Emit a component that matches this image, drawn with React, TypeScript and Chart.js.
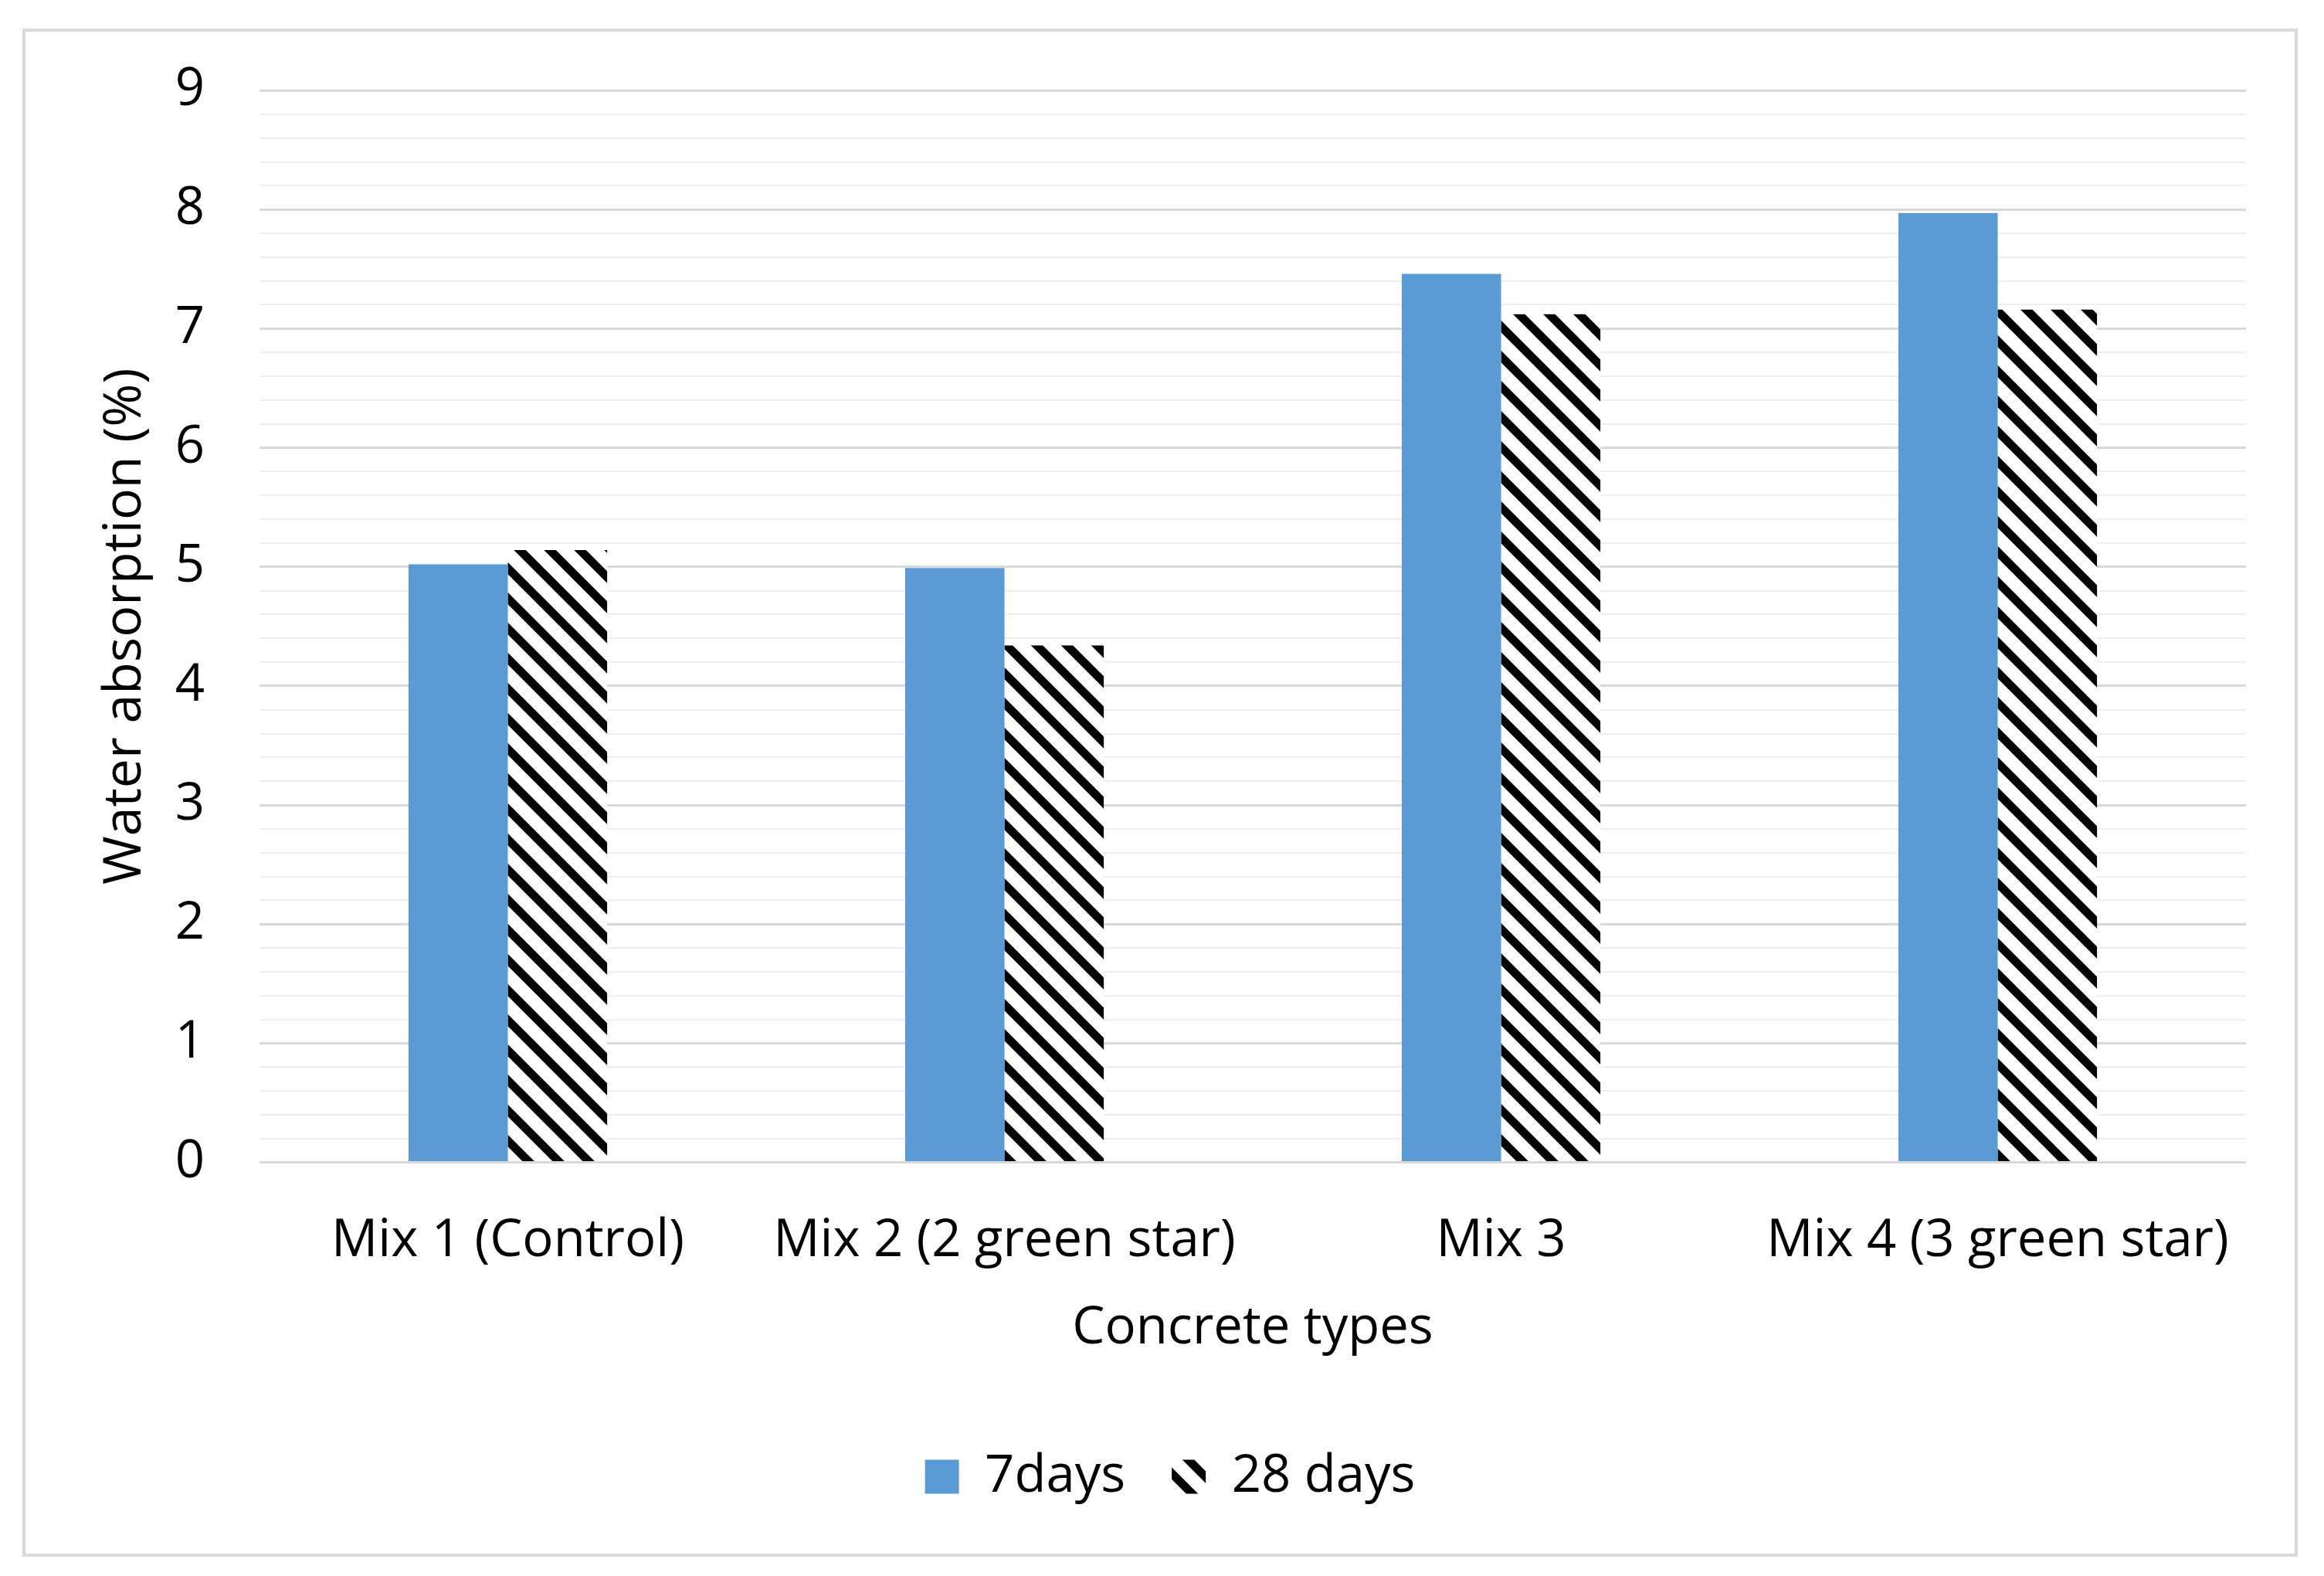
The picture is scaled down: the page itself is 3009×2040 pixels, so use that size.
import { Chart, registerables } from "chart.js"
import { useEffect, useRef } from "react"

Chart.register(...registerables)

// Data
const categories = ["Mix 1 (Control)", "Mix 2 (2 green star)", "Mix 3", "Mix 4 (3 green star)"]
const days7 = [5.02, 4.99, 7.46, 7.97]
const days28 = [5.14, 4.34, 7.12, 7.16]
const seriesNames = ["7days", "28 days"]
const yMin = 0
const yMax = 9
const yMinorStep = 0.2
const yTickValues = Array.from({ length: Math.round((yMax - yMin) / yMinorStep) + 1 }, (_, i) => yMin + i / 5)

const TEXT = "#000000"
const BLUE = "#5b9bd5"
const FONT = "'Open Sans', 'Noto Sans', sans-serif"

const isMajor = (v: number) => Math.abs(v - Math.round(v)) < 1e-6

// Black "\" stripes on white, like the Excel wide downward diagonal fill
function makeHatch(): CanvasPattern | string {
  const size = 39
  const c = document.createElement("canvas")
  c.width = size
  c.height = size
  const g = c.getContext("2d")
  if (!g) return "#000"
  g.fillStyle = "#ffffff"
  g.fillRect(0, 0, size, size)
  g.strokeStyle = "#000000"
  g.lineWidth = 11
  g.lineCap = "square"
  for (const off of [-size, 0, size]) {
    g.beginPath()
    g.moveTo(off, 0)
    g.lineTo(off + size, size)
    g.stroke()
  }
  return g.createPattern(c, "repeat") || "#000"
}

export default function App() {
  const chartRef = useRef<HTMLCanvasElement>(null)
  const chartInstance = useRef<Chart | null>(null)

  useEffect(() => {
    if (!chartRef.current) return
    const ctx = chartRef.current.getContext("2d")
    if (!ctx) return

    Chart.defaults.font.family = FONT
    const hatch = makeHatch()

    chartInstance.current = new Chart(ctx, {
      type: "bar",
      data: {
        labels: categories,
        datasets: [
          {
            label: seriesNames[0],
            data: days7,
            backgroundColor: BLUE,
            borderWidth: 0,
            categoryPercentage: 0.4,
            barPercentage: 1,
          },
          {
            label: seriesNames[1],
            data: days28,
            backgroundColor: hatch as any,
            borderWidth: 0,
            categoryPercentage: 0.4,
            barPercentage: 1,
          },
        ],
      },
      options: {
        responsive: true,
        maintainAspectRatio: false,
        animation: false,
        layout: {
          padding: { left: 122, right: 101, top: 117, bottom: 85 },
        },
        scales: {
          x: {
            afterFit: (scale) => {
              scale.height = 313.5
            },
            grid: { display: false, drawTicks: false },
            border: { display: false },
            ticks: {
              padding: 62,
              color: TEXT,
              font: { size: 67 },
              autoSkip: false,
              maxRotation: 0,
            },
            title: {
              display: true,
              text: "Concrete types",
              color: TEXT,
              font: { size: 67 },
              padding: { top: 0, bottom: 58 },
            },
          },
          y: {
            min: yMin,
            max: yMax,
            afterBuildTicks: (scale) => {
              scale.ticks = yTickValues.map((value) => ({ value }))
            },
            afterFit: (scale) => {
              scale.width = 214
            },
            grid: {
              drawTicks: false,
              color: (c) => (isMajor(c.tick.value) ? "#d9d9d9" : "#efefef"),
              lineWidth: (c) => (isMajor(c.tick.value) ? 3 : 2),
            },
            border: { display: false },
            ticks: {
              autoSkip: false,
              padding: 71,
              color: TEXT,
              font: { size: 67 },
              callback: (v) => (isMajor(Number(v)) ? String(Math.round(Number(v))) : ""),
            },
            title: {
              display: true,
              text: "Water absorption (%)",
              color: TEXT,
              font: { size: 68 },
              padding: 0,
            },
          },
        },
        plugins: {
          legend: {
            position: "bottom",
            labels: {
              boxWidth: 44,
              boxHeight: 44,
              padding: 60,
              color: TEXT,
              font: { size: 67 },
            },
          },
          tooltip: { enabled: false },
        },
      },
    })

    return () => {
      if (chartInstance.current) {
        chartInstance.current.destroy()
        chartInstance.current = null
      }
    }
  }, [])

  return (
    <div style={{ position: "absolute", left: 0, top: 0, width: 3009, height: 2040, background: "#ffffff" }}>
      <div
        style={{
          position: "absolute",
          left: 29,
          top: 37,
          width: 2946,
          height: 1978,
          border: "4px solid #d9d9d9",
          boxSizing: "border-box",
        }}
      />
      <div style={{ position: "absolute", left: 0, top: 0, width: 3009, height: 2040 }}>
        <canvas ref={chartRef} />
      </div>
    </div>
  )
}
